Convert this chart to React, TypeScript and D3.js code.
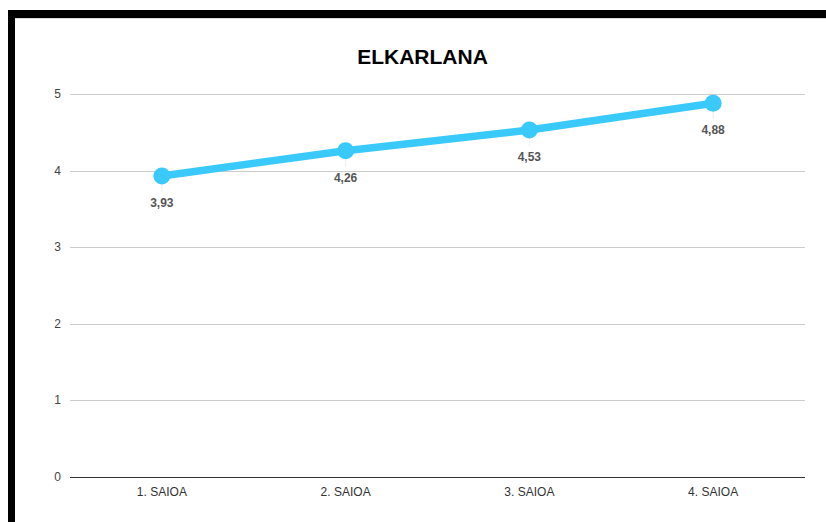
import React from "react";
import * as d3 from "d3";

const categories = ["1. SAIOA", "2. SAIOA", "3. SAIOA", "4. SAIOA"];
const values = [3.93, 4.26, 4.53, 4.88];
const yTicks = [0, 1, 2, 3, 4, 5];
const title = "ELKARLANA";

export default function App() {
  const W = 826, H = 522;
  const left = 70, right = 805, top = 94, bottom = 477;
  const x = d3.scaleBand().domain(categories).range([left, right]);
  const y = d3.scaleLinear().domain([0, 5]).range([bottom, top]);
  const cx = (c: string) => (x(c) as number) + x.bandwidth() / 2;
  const line = d3.line<number>().x((_, i) => cx(categories[i])).y((v) => y(v));
  const font = "Arial, 'Liberation Sans', sans-serif";
  return (
    <svg width={W} height={H} style={{ position: "absolute", left: 0, top: 0, background: "#fff" }}>
      <rect x={0} y={0} width={W} height={H} fill="#fff" />
      <rect x={8} y={10} width={W - 8} height={8} fill="#000" />
      <rect x={8} y={10} width={7} height={H - 10} fill="#000" />
      <line x1={15} x2={W} y1={18.5} y2={18.5} stroke="#ddd" />
      <text x={422.5} y={64} textAnchor="middle" fontFamily={font} fontWeight="bold" fontSize={21} fill="#000">{title}</text>
      {yTicks.map((t) => (
        <g key={t}>
          {t > 0 && <line x1={left} x2={right} y1={Math.round(y(t)) + 0.5} y2={Math.round(y(t)) + 0.5} stroke="#ccc" />}
          <text x={61} y={y(t) + 4} textAnchor="end" fontFamily={font} fontSize={12} fill="#444">{t}</text>
        </g>
      ))}
      <line x1={left} x2={right} y1={Math.round(y(0)) + 0.5} y2={Math.round(y(0)) + 0.5} stroke="#333" />
      {categories.map((c) => (
        <text key={c} x={cx(c)} y={496} textAnchor="middle" fontFamily={font} fontSize={12} fill="#333">{c}</text>
      ))}
      {values.map((v, i) => (
        <line key={"l" + i} x1={cx(categories[i])} x2={cx(categories[i])} y1={y(v) + 6} y2={y(v) + 16} stroke="#eee" />
      ))}
      <path d={line(values) || ""} fill="none" stroke="#39c9fb" strokeWidth={7.5} strokeLinejoin="round" />
      {values.map((v, i) => (
        <circle key={"c" + i} cx={cx(categories[i])} cy={y(v)} r={8.5} fill="#39c9fb" />
      ))}
      {values.map((v, i) => (
        <text key={"t" + i} x={cx(categories[i])} y={y(v) + 31} textAnchor="middle" fontFamily={font} fontWeight="bold" fontSize={12} fill="#555">
          {v.toFixed(2).replace(".", ",")}
        </text>
      ))}
    </svg>
  );
}
